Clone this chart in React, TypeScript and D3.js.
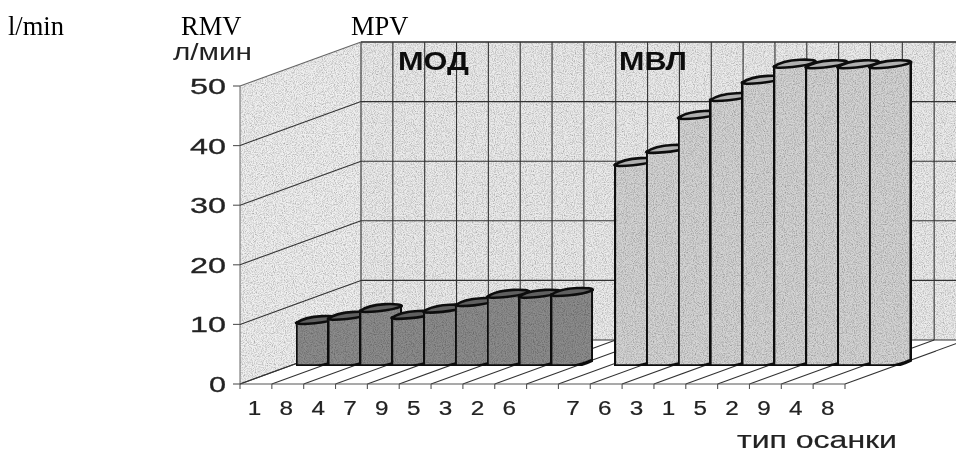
import React from "react";
import * as d3 from "d3";

const categories = ["1", "8", "4", "7", "9", "5", "3", "2", "6", "", "7", "6", "3", "1", "5", "2", "9", "4", "8"];
const modValues = [7.2, 7.9, 9.2, 8.05, 9.1, 10.2, 11.6, 11.6, 11.9];
const mvlValues = [33.7, 35.9, 41.6, 44.6, 47.5, 50.2, 50.1, 50.1, 50.1];
const yTicks = [0, 10, 20, 30, 40, 50];
const headers = [
  { t: "l/min", x: 8 },
  { t: "RMV", x: 181 },
  { t: "MPV", x: 351 },
];

const W = 956, H = 451;
const DX = 121, DY = -44;
const x = d3.scaleLinear().domain([0, categories.length]).range([240, 845]);
const y = d3.scaleLinear().domain([0, 50]).range([384, 86]);
const BAR_DX = 56, BAR_BASE = 366, BAR_W = 42;
const SANS = "'Liberation Sans', Arial, sans-serif";
const SERIF = "'Liberation Serif', 'Times New Roman', serif";

function Bar({ slot, value, body, top }: { slot: number; value: number; body: string; top: string }) {
  const x0 = x(slot) + BAR_DX;
  const x1 = x0 + BAR_W;
  const yTop = BAR_BASE - (y(0) - y(value));
  const rise = 6;
  const d = `M${x0},${yTop} L${x0},${BAR_BASE - 1} Q${x0},${BAR_BASE} ${x0 + 4},${BAR_BASE} L${x0 + 20},${BAR_BASE} Q${x1 - 12},${BAR_BASE} ${x1},${BAR_BASE - rise} L${x1},${yTop - rise} Z`;
  const cap = `M${x0},${yTop} C${x0 + 4},${yTop + 2} ${x1 - 10},${yTop} ${x1},${yTop - rise + 1} C${x1 + 2},${yTop - rise - 2} ${x0 + 12},${yTop - 9} ${x0},${yTop} Z`;
  return (
    <g stroke="#111" strokeWidth={3.4} strokeLinejoin="round">
      <path d={d} fill={body} filter="url(#grain)" />
      <path d={cap} fill={top} strokeWidth={2.6} />
    </g>
  );
}

export default function App() {
  const n = categories.length;
  const back0 = y(0) + DY;
  const backTop = y(50) + DY;
  const grid = "#333";
  return (
    <svg width={W} height={H} viewBox={`0 0 ${W} ${H}`} style={{ position: "absolute", left: 0, top: 0, display: "block", background: "#fff" }}>
      <defs>
        <filter id="grain" x="0" y="0" width="100%" height="100%">
          <feTurbulence type="fractalNoise" baseFrequency="0.9" numOctaves="2" seed="4" result="n" />
          <feColorMatrix in="n" type="matrix" values="0 0 0 0 0  0 0 0 0 0  0 0 0 0 0  1.1 0 0 0 -0.42" result="spk" />
          <feComposite in="spk" in2="SourceGraphic" operator="atop" />
        </filter>
        <filter id="soft"><feGaussianBlur stdDeviation="0.4" /></filter>
        <clipPath id="pg"><rect x={0} y={0} width={W} height={H} /></clipPath>
      </defs>
      <g clipPath="url(#pg)" filter="url(#soft)">
        <rect x={x(0) + DX} y={backTop} width={x(n) - x(0)} height={back0 - backTop} fill="#ececec" filter="url(#grain)" />
        <path d={`M${x(0)},${y(50)} L${x(0) + DX},${backTop} L${x(0) + DX},${back0} L${x(0)},${y(0)} Z`} fill="#f0f0f0" filter="url(#grain)" />
        <path d={`M${x(0)},${y(0)} L${x(n)},${y(0)} L${x(n) + DX},${back0} L${x(0) + DX},${back0} Z`} fill="#fff" />
        <line x1={x(0) + DX} x2={x(n) + DX} y1={backTop} y2={backTop} stroke="#666" strokeWidth={1.4} />
        <line x1={x(0)} x2={x(0)} y1={y(50)} y2={y(0)} stroke="#666" strokeWidth={1} />
        {d3.range(0, n + 1).map(i => (
          <g key={i} stroke={grid} strokeWidth={1.1}>
            <line x1={x(i) + DX} x2={x(i) + DX} y1={backTop} y2={back0} />
            <line x1={x(i)} x2={x(i) + DX} y1={y(0)} y2={back0} />
            <line x1={x(i)} x2={x(i)} y1={y(0)} y2={y(0) + 5} stroke="#555" />
          </g>
        ))}
        {yTicks.map(v => (
          <g key={v} stroke={grid} strokeWidth={1.1}>
            <line x1={x(0) + DX} x2={x(n) + DX} y1={y(v) + DY} y2={y(v) + DY} />
            <line x1={x(0)} x2={x(0) + DX} y1={y(v)} y2={y(v) + DY} stroke={v === 50 ? "#666" : grid} />
            <line x1={x(0) - 7} x2={x(0)} y1={y(v)} y2={y(v)} stroke="#555" />
          </g>
        ))}
        <line x1={x(0)} x2={x(n)} y1={y(0)} y2={y(0)} stroke="#555" strokeWidth={1.2} />

        {modValues.map((v, i) => <Bar key={i} slot={i} value={v} body="#8c8c8c" top="#606060" />)}
        {mvlValues.map((v, i) => <Bar key={i} slot={i + 10} value={v} body="#d4d4d4" top="#b0b0b0" />)}

        {yTicks.map(v => (
          <text key={v} x={226} y={y(v) + 8} textAnchor="end" fontFamily={SANS} fontSize={22.5} fill="#222" stroke="#222" strokeWidth={0.3}
            textLength={v === 0 ? 17 : 36} lengthAdjust="spacingAndGlyphs">{v}</text>
        ))}
        {categories.map((c, i) => c && (
          <text key={i} x={x(i) + 14.5} y={415} textAnchor="middle" fontFamily={SANS} fontSize={20} fill="#222" stroke="#222" strokeWidth={0.2}
            textLength={13.5} lengthAdjust="spacingAndGlyphs">{c}</text>
        ))}
        <text x={173} y={60} fontFamily={SANS} fontSize={24} fill="#222" textLength={79} lengthAdjust="spacingAndGlyphs">л/мин</text>
        <text x={737} y={447.5} fontFamily={SANS} fontSize={24} fill="#222" stroke="#222" strokeWidth={0.2} textLength={160} lengthAdjust="spacingAndGlyphs">тип осанки</text>
        <text x={398} y={70} fontFamily={SANS} fontWeight="bold" fontSize={26} fill="#111" textLength={71} lengthAdjust="spacingAndGlyphs">МОД</text>
        <text x={619} y={70} fontFamily={SANS} fontWeight="bold" fontSize={26} fill="#111" textLength={68} lengthAdjust="spacingAndGlyphs">МВЛ</text>
      </g>
      {headers.map(h => (
        <text key={h.t} x={h.x} y={35} fontFamily={SERIF} fontSize={26.5} fill="#000">{h.t}</text>
      ))}
    </svg>
  );
}
